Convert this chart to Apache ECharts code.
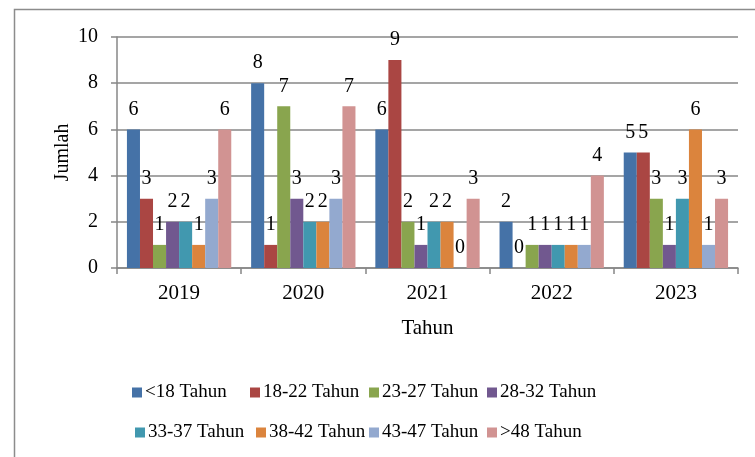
<!DOCTYPE html>
<html>
<head>
<meta charset="utf-8">
<script src="https://cdn.jsdelivr.net/npm/echarts@6/dist/echarts.min.js"></script>
<style>html,body{margin:0;padding:0;background:#fff}#c{width:755px;height:457px}</style>
</head>
<body>
<div id="c"></div>
<script>
var categories = ['2019', '2020', '2021', '2022', '2023'];
var seriesNames = ['<18 Tahun', '18-22 Tahun', '23-27 Tahun', '28-32 Tahun', '33-37 Tahun', '38-42 Tahun', '43-47 Tahun', '>48 Tahun'];
var under18 = [6, 8, 6, 2, 5];
var age18_22 = [3, 1, 9, 0, 5];
var age23_27 = [1, 7, 2, 1, 3];
var age28_32 = [2, 3, 1, 1, 1];
var age33_37 = [2, 2, 2, 1, 3];
var age38_42 = [1, 2, 2, 1, 6];
var age43_47 = [3, 3, 0, 1, 1];
var over48 = [6, 7, 3, 4, 3];
var yTicks = [0, 2, 4, 6, 8, 10];

var values = [under18, age18_22, age23_27, age28_32, age33_37, age38_42, age43_47, over48];
var colors = ['#4572A7', '#AA4643', '#89A54E', '#71588F', '#4198AF', '#DB843D', '#93A9CF', '#D19392'];
var font = '"Liberation Serif", "Times New Roman", serif';
var legendPos = [[132, 383], [250, 383], [369, 383], [487, 383], [135, 423], [256, 423], [369, 423], [487, 423]];

var chart = echarts.init(document.getElementById('c'), null, {renderer: 'canvas'});
var option = {
  animation: false,
  color: colors,
  textStyle: {fontFamily: font},
  graphic: [{
    type: 'rect', left: 12, top: 7, silent: true,
    shape: {width: 800, height: 500},
    style: {fill: 'none', stroke: '#8c8c8c', lineWidth: 1.5}
  }],
  grid: {left: 117, right: 17, top: 37, bottom: 189},
  legend: seriesNames.map(function (n, i) {
    return {
      data: [n], left: legendPos[i][0], top: legendPos[i][1],
      itemWidth: 10, itemHeight: 10, icon: 'rect', padding: 0, itemGap: 0,
      textStyle: {fontFamily: font, fontSize: 19, color: '#000', padding: [0, 0, 0, -2]}
    };
  }),
  xAxis: {
    type: 'category', data: categories,
    name: 'Tahun', nameLocation: 'middle', nameGap: 50,
    nameTextStyle: {fontFamily: font, fontSize: 21, color: '#000'},
    axisLine: {lineStyle: {color: '#878787', width: 1.5}},
    axisTick: {show: true, alignWithLabel: false, length: 6, lineStyle: {color: '#878787', width: 1.5}},
    axisLabel: {fontFamily: font, fontSize: 21, color: '#000', margin: 15}
  },
  yAxis: {
    type: 'value', min: yTicks[0], max: yTicks[yTicks.length - 1], interval: 2,
    name: 'Jumlah', nameLocation: 'middle', nameGap: 44, nameMoveOverlap: false,
    nameTextStyle: {fontFamily: font, fontSize: 20, color: '#000'},
    axisLine: {show: true, lineStyle: {color: '#878787', width: 1.5}},
    axisTick: {show: true, length: 6, lineStyle: {color: '#878787', width: 1.5}},
    axisLabel: {fontFamily: font, fontSize: 20, color: '#000', margin: 19},
    splitLine: {lineStyle: {color: '#878787', width: 1.5}}
  },
  series: seriesNames.map(function (n, i) {
    return {
      name: n, type: 'bar', data: values[i],
      barGap: '0%', barCategoryGap: '16%',
      label: {show: true, position: 'top', distance: 10, fontFamily: font, fontSize: 20, color: '#000'}
    };
  })
};
chart.setOption(option);
</script>
</body>
</html>
